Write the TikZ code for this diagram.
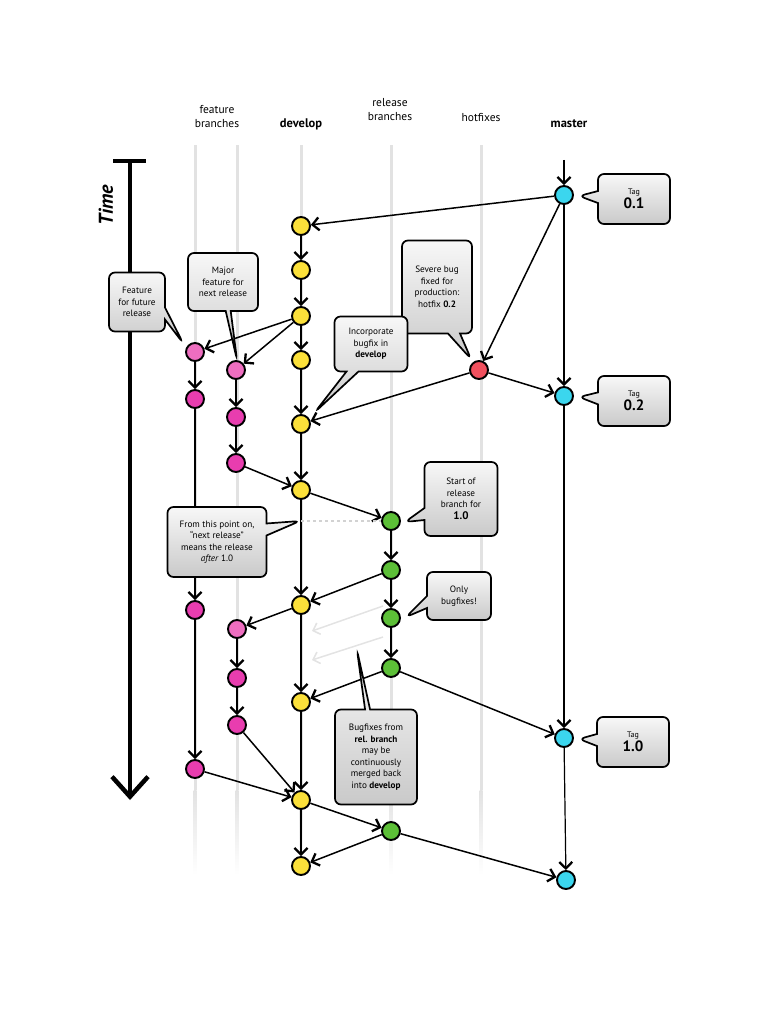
\documentclass[tikz,border=0pt]{standalone}
\usepackage{fontspec}
\setmainfont{PT Sans}
\usetikzlibrary{arrows.meta,shapes.callouts}
\definecolor{devyellow}{HTML}{FBE03A}
\definecolor{featpink}{HTML}{E83DAF}
\definecolor{featlight}{HTML}{EE6EC0}
\definecolor{relgreen}{HTML}{5CBF37}
\definecolor{mastercyan}{HTML}{3BD6EE}
\definecolor{hotred}{HTML}{F0505E}
\definecolor{lanegray}{HTML}{E2E2E2}
\begin{document}
\begin{tikzpicture}[x=1pt,y=-1pt,
  commit/.style={circle,draw=black,line width=1.9pt,minimum size=18pt,inner sep=0pt},
  dev/.style={commit,fill=devyellow},
  feat/.style={commit,fill=featpink},
  featl/.style={commit,fill=featlight},
  rel/.style={commit,fill=relgreen},
  mas/.style={commit,fill=mastercyan},
  hot/.style={commit,fill=hotred},
  flow/.style={draw=black,line width=1.5pt,-{Straight Barb[length=6.5pt,width=13pt,line width=2.3pt]}},
  ghost/.style={draw=gray!22,line width=1.5pt,-{Straight Barb[length=6pt,width=12pt,line width=1.6pt]}},
  lane/.style={draw=lanegray,line width=3pt},
  lanefade/.style={top color=lanegray,bottom color=white,draw=none},
  head/.style={font=\fontsize{11.5}{14}\selectfont,align=center},
  bhead/.style={font=\fontsize{12.5}{14}\selectfont\bfseries,align=center},
  note/.style={rectangle callout,rounded corners=6pt,draw=black,line width=1.7pt,
     top color=gray!6,bottom color=gray!42,align=center,
     font=\fontsize{9.2}{11.5}\selectfont,inner sep=2pt,callout pointer width=12pt},
  tag/.style={note,minimum width=72pt,minimum height=50pt}
]
\useasboundingbox (0,0) rectangle (768,1024);

% lanes
\foreach \lx in {195,237,301,391,481}{
  \draw[lane] (\lx,145) -- (\lx,790);
  \shade[lanefade] (\lx-1.5,790) rectangle (\lx+1.5,875);
}

% headers
\node[head] (hfeat) at (217,117) {feature\\branches};
\node[bhead] (hdev) at (301,124) {develop};
\node[head] (hrel) at (390,110) {release\\branches};
\node[head] (hhot) at (481,118) {hotfixes};
\node[bhead] (hmas) at (569,124) {master};

% time
\coordinate (tl) at (113,161);
\coordinate (tr) at (146,161);
\coordinate (tt) at (130,161);
\coordinate (tb) at (130,800);
\draw[line width=4.5pt] (tl) -- (tr);
\draw[line width=3.8pt,-{Straight Barb[length=20pt,width=36pt,line width=4.5pt]}] (tt) -- (tb);
\node[rotate=90,font=\fontsize{20}{20}\selectfont\bfseries\itshape] (time) at (106,205) {Time};

% commits
\node[mas] (M1) at (564,195) {};
\node[mas] (M2) at (564,396) {};
\node[mas] (M3) at (564,738) {};
\node[mas] (M4) at (566,880) {};
\node[dev] (D1) at (301,226) {};
\node[dev] (D2) at (301,270) {};
\node[dev] (D3) at (301,316) {};
\node[dev] (D4) at (301,360) {};
\node[dev] (D5) at (301,424) {};
\node[dev] (D6) at (301,490) {};
\node[dev] (D7) at (301,605) {};
\node[dev] (D8) at (301,702) {};
\node[dev] (D9) at (301,800) {};
\node[dev] (D10) at (301,866) {};
\node[featl] (F1a) at (195,352) {};
\node[feat] (F1b) at (195,399) {};
\node[feat] (F1c) at (195,610) {};
\node[feat] (F1d) at (195,769) {};
\node[featl] (F2a) at (236,370) {};
\node[feat] (F2b) at (236,417) {};
\node[feat] (F2c) at (236,463) {};
\node[featl] (F2d) at (237,629) {};
\node[feat] (F2e) at (237,678) {};
\node[feat] (F2f) at (237,725) {};
\node[rel] (R1) at (391,521) {};
\node[rel] (R2) at (391,570) {};
\node[rel] (R3) at (391,618) {};
\node[rel] (R4) at (391,668) {};
\node[rel] (R5) at (391,831) {};
\node[hot] (H1) at (479,370) {};

% connectors
\coordinate (mtop) at (564,160);
\coordinate (branchpt) at (301,521);
\draw[flow] (mtop) -- (M1);
\draw[flow] (M1) -- (D1);
\draw[flow] (D1) -- (D2);
\draw[flow] (D2) -- (D3);
\draw[flow] (D3) -- (D4);
\draw[flow] (D4) -- (D5);
\draw[flow] (D5) -- (D6);
\draw[flow] (D3) -- (F1a);
\draw[flow] (D3) -- (F2a);
\draw[flow] (F1a) -- (F1b);
\draw[flow] (F2a) -- (F2b);
\draw[flow] (F2b) -- (F2c);
\draw[flow] (F2c) -- (D6);
\draw[flow] (M1) -- (H1);
\draw[flow] (H1) -- (M2);
\draw[flow] (H1) -- (D5);
\draw[flow,line width=1.2pt] (M1) -- (M2);
\draw[flow] (D6) -- (R1);
\draw[flow,line width=1.2pt] (D6) -- (D7);
\draw[flow,line width=1.2pt] (D7) -- (D8);
\draw[flow,line width=1.2pt] (D8) -- (D9);
\draw[flow] (D9) -- (D10);
\draw[dashed,draw=gray!35,line width=1.4pt] (branchpt) -- (R1);
\draw[flow] (R1) -- (R2);
\draw[flow] (R2) -- (R3);
\draw[flow] (R3) -- (R4);
\draw[flow] (R2) -- (D7);
\draw[flow] (D7) -- (F2d);
\draw[flow] (F2d) -- (F2e);
\draw[flow] (F2e) -- (F2f);
\draw[flow,line width=1.2pt] (F1b) -- (F1c);
\draw[flow,line width=1.2pt] (F1c) -- (F1d);
\draw[flow] (R4) -- (D8);
\draw[flow] (R4) -- (M3);
\draw[flow,line width=1.2pt] (M2) -- (M3);
\draw[flow,line width=1.2pt] (M3) -- (M4);
\draw[flow] (F2f) -- (D9);
\draw[flow] (F1d) -- (D9);
\draw[flow] (D9) -- (R5);
\draw[flow] (R5) -- (D10);
\draw[flow] (R5) -- (M4);
\coordinate (g1s) at (383,606);
\coordinate (g1e) at (312,631);
\coordinate (g2s) at (383,637);
\coordinate (g2e) at (312,660);
\draw[ghost] (g1s) -- (g1e);
\draw[ghost] (g2s) -- (g2e);

% callouts
\node[tag,callout absolute pointer={(579,196)}] (tag01) at (634,199)
  {{\fontsize{8}{9}\selectfont Tag}\\[1pt]{\fontsize{15}{15}\selectfont\bfseries 0.1}};
\node[tag,callout absolute pointer={(579,397)}] (tag02) at (634,401)
  {{\fontsize{8}{9}\selectfont Tag}\\[1pt]{\fontsize{15}{15}\selectfont\bfseries 0.2}};
\node[tag,callout absolute pointer={(579,739)}] (tag10) at (633,742)
  {{\fontsize{8}{9}\selectfont Tag}\\[1pt]{\fontsize{15}{15}\selectfont\bfseries 1.0}};
\node[note,minimum width=56pt,minimum height=59pt,callout absolute pointer={(183,343)}] (nfut) at (137,302)
  {Feature\\for future\\release};
\node[note,minimum width=70pt,minimum height=58pt,callout pointer width=5pt,callout absolute pointer={(237,360)}] (nmaj) at (223,282)
  {Major\\feature for\\next release};
\node[note,minimum width=70pt,minimum height=93pt,callout absolute pointer={(471,359)}] (nsev) at (437,287)
  {Severe bug\\fixed for\\production:\\hotfix \textbf{0.2}};
\node[note,minimum width=73pt,minimum height=55pt,callout absolute pointer={(315,412)}] (ninc) at (371,344)
  {Incorporate\\bugfix in\\\textbf{develop}};
\node[note,minimum width=73pt,minimum height=74pt,callout absolute pointer={(405,522)}] (nstart) at (461,499)
  {Start of\\release\\branch for\\{\fontsize{11}{12}\selectfont\bfseries 1.0}};
\node[note,minimum width=99pt,minimum height=70pt,callout absolute pointer={(300,521)}] (nfrom) at (217,542)
  {From this point on,\\“next release”\\means the release\\\textit{after} 1.0};
\node[note,minimum width=64pt,minimum height=48pt,callout absolute pointer={(406,617)}] (nonly) at (459,596)
  {Only\\bugfixes!};
\node[note,minimum width=82pt,minimum height=95pt,callout pointer width=5pt,callout absolute pointer={(357,650)}] (nbug) at (376,757)
  {Bugfixes from\\\textbf{rel. branch}\\may be\\continuously\\merged back\\into \textbf{develop}};
\end{tikzpicture}
\end{document}
